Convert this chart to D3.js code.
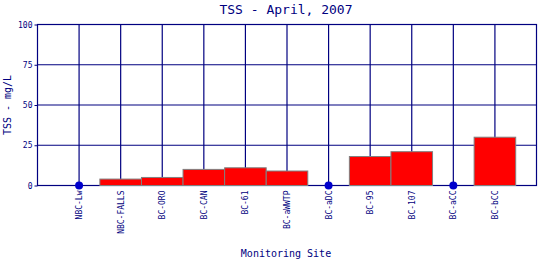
<!DOCTYPE html>
<html>
<head>
<meta charset="utf-8">
<script src="https://cdn.jsdelivr.net/npm/d3@7"></script>
<style>
  body { margin: 0; background: #fff; }
  text { font-family: "DejaVu Sans Mono", monospace; fill: #000080; }
</style>
</head>
<body>
<svg id="chart" width="540" height="260"></svg>
<script>
// data
var sites = ['NBC-Lw', 'NBC-FALLS', 'BC-ORO', 'BC-CAN', 'BC-61', 'BC-aWWTP',
             'BC-aDC', 'BC-95', 'BC-107', 'BC-aCC', 'BC-bCC'];
var tss = [0, 4, 5, 10, 11, 9, 0, 18, 21, 0, 30];
var yTicks = [0, 25, 50, 75, 100];

var svg = d3.select('#chart');
var plotL = 37.5, plotR = 536.5, plotT = 24.5, plotB = 185.5;

var x = d3.scalePoint().domain(sites).range([plotL, plotR]).padding(1);
var y = d3.scaleLinear().domain([0, 100]).range([plotB, plotT]);
var bw = x.step();

var navy = '#000080';

// grid
svg.append('g').selectAll('line').data(yTicks).enter().append('line')
  .attr('x1', plotL).attr('x2', plotR)
  .attr('y1', function(d){ return y(d); }).attr('y2', function(d){ return y(d); })
  .attr('stroke', navy).attr('stroke-width', 1.2);
svg.append('g').selectAll('line').data(sites).enter().append('line')
  .attr('x1', function(d){ return x(d); }).attr('x2', function(d){ return x(d); })
  .attr('y1', plotT).attr('y2', plotB)
  .attr('stroke', navy).attr('stroke-width', 1.2);
svg.append('rect').attr('x', plotL).attr('y', plotT)
  .attr('width', plotR - plotL).attr('height', plotB - plotT)
  .attr('fill', 'none').attr('stroke', navy).attr('stroke-width', 1.2);

// bars
var data = sites.map(function(s, i){ return {site: s, v: tss[i]}; });
svg.append('g').selectAll('rect').data(data.filter(function(d){ return d.v > 0; }))
  .enter().append('rect')
  .attr('x', function(d){ return x(d.site) - bw / 2; })
  .attr('y', function(d){ return y(d.v); })
  .attr('width', bw)
  .attr('height', function(d){ return y(0) - y(d.v); })
  .attr('fill', '#ff0000').attr('stroke', '#808080').attr('stroke-width', 1);

// zero values as dots
svg.append('g').selectAll('circle').data(data.filter(function(d){ return d.v === 0; }))
  .enter().append('circle')
  .attr('cx', function(d){ return x(d.site); })
  .attr('cy', y(0))
  .attr('r', 4).attr('fill', '#0000cc');

// y axis
var yAxis = svg.append('g').attr('transform', 'translate(' + plotL + ',0)')
  .call(d3.axisLeft(y).tickValues(yTicks).tickSize(3).tickPadding(2));
yAxis.select('.domain').remove();
yAxis.selectAll('line').attr('stroke', navy);
yAxis.selectAll('text').style('font-size', '8px').style('font-family', '"DejaVu Sans Mono", monospace').attr('fill', navy);

// x labels
var xAxis = svg.append('g').attr('transform', 'translate(0,' + plotB + ')')
  .call(d3.axisBottom(x).tickSize(0).tickPadding(0));
xAxis.select('.domain').remove();
xAxis.selectAll('text')
  .style('font-size', '8px').style('font-family', '"DejaVu Sans Mono", monospace').attr('fill', navy)
  .attr('text-anchor', 'end')
  .attr('transform', 'rotate(-90)')
  .attr('x', -5).attr('y', 0).attr('dy', '0.32em');

// titles
svg.append('text').attr('x', 286).attr('y', 14).attr('text-anchor', 'middle')
  .style('font-size', '13px').text('TSS - April, 2007');
svg.append('text').attr('x', 286).attr('y', 257).attr('text-anchor', 'middle')
  .style('font-size', '10px').text('Monitoring Site');
svg.append('text').attr('transform', 'translate(11,' + ((plotT + plotB) / 2) + ') rotate(-90)')
  .attr('text-anchor', 'middle').style('font-size', '10px').text('TSS - mg/L');
</script>
</body>
</html>
